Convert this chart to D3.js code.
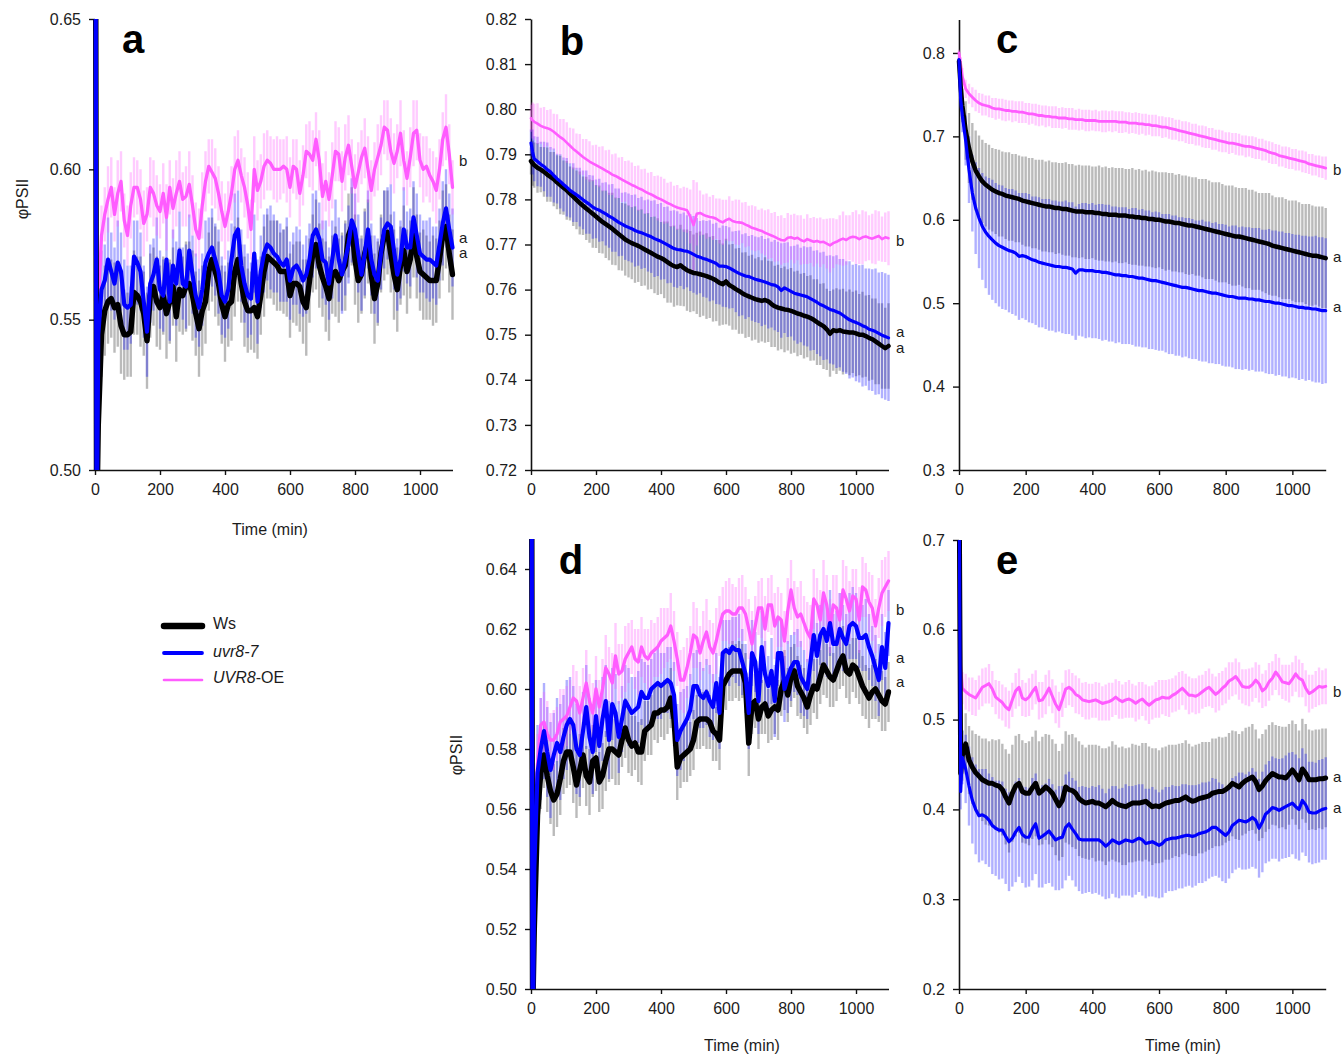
<!DOCTYPE html>
<html><head><meta charset="utf-8">
<script src="https://cdn.jsdelivr.net/npm/d3@7"></script>
<style>body{margin:0;background:#fff} text{font-family:"Liberation Sans",Arial,sans-serif}</style>
</head><body><svg id="chart" width="1344" height="1054"></svg>
<script>
// time points (min): 0, 5, then every 10 min up to 1100
const times = [0, 5].concat(d3.range(10, 1101, 10));
const xTicks = [0, 200, 400, 600, 800, 1000];
const yTicksA = [0.50, 0.55, 0.60, 0.65];
const yTicksB = [0.72, 0.73, 0.74, 0.75, 0.76, 0.77, 0.78, 0.79, 0.80, 0.81, 0.82];
const yTicksC = [0.3, 0.4, 0.5, 0.6, 0.7, 0.8];
const yTicksD = [0.50, 0.52, 0.54, 0.56, 0.58, 0.60, 0.62, 0.64];
const yTicksE = [0.2, 0.3, 0.4, 0.5, 0.6, 0.7];
const seriesNames = ['Ws', 'uvr8-7', 'UVR8-OE'];
const sigLetters = ['b', 'a', 'a'];
const panelLetters = ['a', 'b', 'c', 'd', 'e'];

// ---- panel a ----
const aWs = [0.80, 0.48,
 0.515,0.545,0.553,0.556,0.557,0.554,0.555,0.548,0.545,0.545,
 0.546,0.559,0.558,0.556,0.552,0.543,0.558,0.561,0.556,0.554,
 0.558,0.552,0.556,0.561,0.551,0.560,0.558,0.561,0.562,0.558,
 0.552,0.547,0.553,0.556,0.566,0.570,0.566,0.562,0.555,0.551,
 0.555,0.556,0.566,0.570,0.562,0.556,0.553,0.553,0.554,0.551,
 0.558,0.566,0.571,0.570,0.569,0.568,0.566,0.566,0.566,0.558,
 0.562,0.562,0.561,0.556,0.554,0.563,0.572,0.575,0.568,0.564,
 0.561,0.557,0.565,0.566,0.563,0.566,0.568,0.578,0.581,0.570,
 0.563,0.565,0.572,0.576,0.565,0.557,0.562,0.572,0.578,0.579,
 0.572,0.565,0.560,0.568,0.573,0.566,0.570,0.579,0.571,0.566,
 0.565,0.564,0.563,0.563,0.563,0.570,0.578,0.581,0.572,0.565];
const aUvr = [0.80, 0.47,
 0.545,0.560,0.563,0.570,0.566,0.562,0.569,0.566,0.555,0.554,
 0.555,0.571,0.569,0.566,0.556,0.546,0.562,0.565,0.570,0.560,
 0.558,0.570,0.556,0.568,0.562,0.573,0.562,0.561,0.573,0.565,
 0.558,0.554,0.560,0.569,0.572,0.574,0.570,0.566,0.558,0.556,
 0.560,0.570,0.578,0.580,0.568,0.562,0.558,0.557,0.572,0.556,
 0.566,0.572,0.575,0.574,0.572,0.571,0.569,0.568,0.570,0.563,
 0.567,0.568,0.566,0.563,0.565,0.570,0.578,0.580,0.577,0.570,
 0.569,0.562,0.570,0.578,0.570,0.565,0.570,0.575,0.583,0.580,
 0.572,0.565,0.572,0.580,0.570,0.565,0.563,0.572,0.580,0.582,
 0.581,0.573,0.565,0.570,0.580,0.574,0.574,0.584,0.578,0.572,
 0.571,0.570,0.570,0.569,0.568,0.575,0.582,0.587,0.580,0.574];
const aOe = [0.80, 0.52,
 0.555,0.578,0.585,0.590,0.594,0.585,0.592,0.596,0.583,0.578,
 0.588,0.594,0.594,0.590,0.582,0.585,0.594,0.592,0.588,0.586,
 0.592,0.584,0.594,0.587,0.592,0.596,0.590,0.591,0.595,0.588,
 0.580,0.577,0.588,0.596,0.601,0.599,0.597,0.592,0.586,0.581,
 0.586,0.592,0.600,0.603,0.598,0.594,0.588,0.580,0.600,0.593,
 0.596,0.601,0.603,0.602,0.600,0.600,0.600,0.601,0.600,0.594,
 0.601,0.600,0.592,0.598,0.606,0.605,0.603,0.610,0.603,0.591,
 0.596,0.590,0.598,0.606,0.605,0.596,0.604,0.608,0.601,0.594,
 0.599,0.604,0.607,0.600,0.593,0.600,0.604,0.608,0.614,0.613,
 0.606,0.602,0.606,0.612,0.603,0.597,0.604,0.612,0.613,0.603,
 0.600,0.601,0.598,0.596,0.593,0.600,0.610,0.614,0.605,0.594];
const aWsErr = [0.005, 0.010,
 0.013,0.014,0.015,0.014,0.013,0.015,0.014,0.016,0.015,0.014,
 0.015,0.014,0.013,0.015,0.014,0.016,0.014,0.013,0.015,0.014,
 0.013,0.015,0.014,0.013,0.015,0.014,0.013,0.015,0.014,0.015,
 0.014,0.016,0.015,0.014,0.013,0.014,0.015,0.014,0.013,0.015,
 0.014,0.013,0.015,0.014,0.013,0.015,0.014,0.013,0.015,0.014,
 0.013,0.015,0.014,0.013,0.014,0.015,0.013,0.014,0.015,0.014,
 0.013,0.014,0.015,0.014,0.016,0.014,0.013,0.015,0.014,0.013,
 0.015,0.014,0.013,0.015,0.014,0.013,0.015,0.014,0.013,0.015,
 0.014,0.013,0.015,0.014,0.013,0.015,0.014,0.013,0.015,0.014,
 0.013,0.015,0.014,0.013,0.015,0.014,0.013,0.015,0.014,0.013,
 0.015,0.014,0.013,0.015,0.014,0.013,0.015,0.014,0.013,0.015];
const aUvrErr = [0.005, 0.010,
 0.012,0.013,0.012,0.014,0.013,0.012,0.014,0.013,0.015,0.014,
 0.013,0.012,0.014,0.013,0.012,0.015,0.013,0.012,0.014,0.013,
 0.012,0.014,0.013,0.012,0.014,0.013,0.012,0.014,0.012,0.013,
 0.014,0.013,0.012,0.014,0.012,0.013,0.012,0.014,0.013,0.012,
 0.013,0.012,0.014,0.013,0.012,0.013,0.014,0.012,0.013,0.014,
 0.012,0.013,0.012,0.014,0.013,0.012,0.013,0.012,0.014,0.013,
 0.012,0.013,0.014,0.012,0.013,0.012,0.014,0.013,0.012,0.013,
 0.014,0.012,0.013,0.012,0.014,0.013,0.012,0.013,0.014,0.012,
 0.013,0.012,0.014,0.013,0.012,0.013,0.014,0.012,0.013,0.012,
 0.014,0.013,0.012,0.013,0.014,0.012,0.013,0.012,0.014,0.013,
 0.012,0.013,0.014,0.012,0.013,0.012,0.014,0.013,0.012,0.013];
const aOeErr = [0.004, 0.008,
 0.009,0.010,0.009,0.011,0.010,0.009,0.011,0.010,0.009,0.010,
 0.011,0.010,0.009,0.010,0.011,0.009,0.010,0.011,0.010,0.009,
 0.010,0.011,0.009,0.010,0.011,0.010,0.009,0.010,0.011,0.010,
 0.009,0.010,0.011,0.010,0.009,0.011,0.010,0.009,0.010,0.011,
 0.010,0.009,0.011,0.010,0.009,0.010,0.011,0.010,0.011,0.010,
 0.009,0.011,0.010,0.009,0.010,0.011,0.010,0.009,0.011,0.010,
 0.009,0.010,0.011,0.010,0.009,0.011,0.010,0.009,0.010,0.011,
 0.010,0.009,0.011,0.010,0.009,0.010,0.011,0.010,0.009,0.011,
 0.010,0.009,0.010,0.011,0.010,0.009,0.011,0.010,0.009,0.010,
 0.011,0.010,0.009,0.011,0.010,0.009,0.010,0.011,0.010,0.009,
 0.011,0.010,0.009,0.010,0.011,0.010,0.009,0.011,0.010,0.009];

// ---- panel b ----
const bWs = [0.7885, 0.7880,
 0.7876,0.7870,0.7866,0.7861,0.7855,0.7850,0.7845,0.7838,0.7832,0.7826,
 0.7820,0.7813,0.7806,0.7799,0.7792,0.7786,0.7780,0.7774,0.7768,0.7762,
 0.7756,0.7750,0.7745,0.7740,0.7735,0.7729,0.7723,0.7717,0.7711,0.7707,
 0.7703,0.7700,0.7697,0.7693,0.7689,0.7685,0.7681,0.7677,0.7673,0.7670,
 0.7666,0.7661,0.7656,0.7652,0.7650,0.7654,0.7648,0.7643,0.7640,0.7637,
 0.7636,0.7634,0.7632,0.7630,0.7627,0.7624,0.7620,0.7615,0.7612,0.7618,
 0.7610,0.7606,0.7601,0.7597,0.7592,0.7588,0.7585,0.7582,0.7579,0.7577,
 0.7575,0.7577,0.7574,0.7568,0.7563,0.7560,0.7558,0.7556,0.7555,0.7553,
 0.7550,0.7547,0.7545,0.7542,0.7540,0.7537,0.7533,0.7528,0.7523,0.7519,
 0.7512,0.7502,0.7510,0.7508,0.7510,0.7507,0.7506,0.7505,0.7505,0.7503,
 0.7500,0.7500,0.7497,0.7493,0.7490,0.7485,0.7480,0.7475,0.7470,0.7475];
const bUvr = [0.7925, 0.7905,
 0.7890,0.7884,0.7878,0.7873,0.7866,0.7861,0.7853,0.7846,0.7840,0.7833,
 0.7827,0.7820,0.7815,0.7810,0.7805,0.7799,0.7794,0.7789,0.7783,0.7779,
 0.7776,0.7772,0.7768,0.7763,0.7759,0.7754,0.7749,0.7745,0.7741,0.7738,
 0.7735,0.7731,0.7728,0.7726,0.7723,0.7720,0.7717,0.7713,0.7710,0.7707,
 0.7703,0.7699,0.7695,0.7691,0.7689,0.7688,0.7686,0.7685,0.7682,0.7678,
 0.7674,0.7672,0.7669,0.7667,0.7664,0.7661,0.7658,0.7652,0.7652,0.7651,
 0.7648,0.7644,0.7640,0.7636,0.7633,0.7630,0.7629,0.7626,0.7623,0.7621,
 0.7619,0.7617,0.7614,0.7611,0.7610,0.7606,0.7598,0.7604,0.7600,0.7596,
 0.7592,0.7590,0.7588,0.7586,0.7584,0.7580,0.7576,0.7572,0.7567,0.7564,
 0.7560,0.7556,0.7554,0.7551,0.7548,0.7543,0.7538,0.7533,0.7530,0.7527,
 0.7524,0.7520,0.7517,0.7512,0.7510,0.7507,0.7503,0.7499,0.7496,0.7493];
const bOe = [0.7980, 0.7975,
 0.7972,0.7968,0.7963,0.7960,0.7958,0.7955,0.7950,0.7944,0.7938,0.7933,
 0.7926,0.7919,0.7912,0.7906,0.7900,0.7894,0.7889,0.7884,0.7880,0.7876,
 0.7872,0.7868,0.7864,0.7860,0.7855,0.7852,0.7848,0.7844,0.7840,0.7836,
 0.7832,0.7829,0.7825,0.7822,0.7818,0.7814,0.7811,0.7807,0.7803,0.7800,
 0.7796,0.7792,0.7789,0.7785,0.7782,0.7780,0.7778,0.7776,0.7762,0.7743,
 0.7768,0.7770,0.7766,0.7763,0.7761,0.7760,0.7757,0.7752,0.7749,0.7754,
 0.7757,0.7752,0.7750,0.7749,0.7748,0.7744,0.7741,0.7737,0.7735,0.7732,
 0.7730,0.7726,0.7723,0.7720,0.7717,0.7713,0.7710,0.7709,0.7715,0.7716,
 0.7713,0.7715,0.7710,0.7707,0.7712,0.7709,0.7706,0.7708,0.7705,0.7706,
 0.7702,0.7698,0.7703,0.7706,0.7710,0.7713,0.7710,0.7715,0.7717,0.7716,
 0.7712,0.7716,0.7718,0.7715,0.7713,0.7716,0.7719,0.7712,0.7716,0.7714];
const bWsErr = [0.003, 0.005,
 0.005,0.0055,0.005,0.0055,0.006,0.0055,0.006,0.006,0.0065,0.006,
 0.0065,0.006,0.0065,0.0065,0.007,0.0065,0.007,0.007,0.0075,0.007,
 0.0075,0.007,0.0075,0.0075,0.008,0.0075,0.008,0.0075,0.008,0.008,
 0.008,0.0085,0.008,0.0085,0.008,0.0085,0.008,0.0085,0.0085,0.008,
 0.0085,0.009,0.0085,0.009,0.0085,0.009,0.0085,0.009,0.009,0.0085,
 0.009,0.0095,0.009,0.0095,0.009,0.0095,0.009,0.0095,0.009,0.0095,
 0.009,0.0095,0.009,0.0095,0.009,0.0095,0.009,0.0095,0.009,0.0095,
 0.009,0.0095,0.009,0.0095,0.009,0.0095,0.009,0.0095,0.009,0.0095,
 0.009,0.0095,0.009,0.0095,0.009,0.0095,0.009,0.0095,0.009,0.0095,
 0.009,0.0095,0.009,0.0095,0.009,0.0095,0.009,0.0095,0.009,0.0095,
 0.009,0.0095,0.009,0.0095,0.009,0.0095,0.009,0.0095,0.009,0.0095];
const bUvrErr = [0.003, 0.005,
 0.005,0.0055,0.005,0.0055,0.006,0.0055,0.006,0.0055,0.006,0.006,
 0.0065,0.006,0.0065,0.006,0.0065,0.0065,0.007,0.0065,0.007,0.0065,
 0.007,0.0065,0.007,0.007,0.0075,0.007,0.0075,0.007,0.0075,0.0075,
 0.0075,0.008,0.0075,0.008,0.0075,0.008,0.008,0.0085,0.008,0.0085,
 0.008,0.0085,0.008,0.0085,0.0085,0.008,0.0085,0.008,0.0085,0.0085,
 0.0085,0.008,0.0085,0.0085,0.009,0.0085,0.009,0.0085,0.009,0.009,
 0.009,0.0085,0.009,0.0095,0.009,0.0095,0.009,0.0095,0.0095,0.0095,
 0.010,0.0095,0.010,0.0095,0.010,0.010,0.0105,0.010,0.0105,0.010,
 0.0105,0.011,0.0105,0.011,0.011,0.0115,0.011,0.0115,0.0115,0.012,
 0.0115,0.012,0.012,0.0125,0.012,0.0125,0.0125,0.013,0.0125,0.013,
 0.013,0.0135,0.013,0.0135,0.0135,0.014,0.0135,0.014,0.014,0.014];
const bOeErr = [0.003, 0.004,
 0.004,0.0045,0.004,0.0045,0.004,0.0045,0.004,0.0045,0.004,0.0045,
 0.0045,0.004,0.0045,0.004,0.0045,0.004,0.0045,0.0045,0.004,0.0045,
 0.0045,0.005,0.0045,0.005,0.0045,0.005,0.0045,0.005,0.0045,0.005,
 0.005,0.0045,0.005,0.0045,0.005,0.0045,0.005,0.0045,0.005,0.005,
 0.005,0.0045,0.005,0.0045,0.005,0.0045,0.005,0.005,0.006,0.010,
 0.007,0.005,0.0045,0.005,0.0045,0.005,0.0045,0.005,0.005,0.0045,
 0.005,0.0045,0.005,0.005,0.0045,0.005,0.0045,0.005,0.005,0.0045,
 0.005,0.005,0.0055,0.005,0.0055,0.005,0.0055,0.005,0.0055,0.005,
 0.0055,0.005,0.0055,0.005,0.0055,0.005,0.0055,0.005,0.0055,0.005,
 0.0055,0.006,0.0055,0.005,0.0055,0.006,0.0055,0.005,0.0055,0.006,
 0.0055,0.006,0.0055,0.005,0.0055,0.006,0.0055,0.005,0.0055,0.006];

// ---- panel c ----
const cWs = [0.790, 0.760,
 0.737,0.707,0.686,0.670,0.659,0.652,0.646,0.642,0.639,0.636,
 0.634,0.632,0.631,0.629,0.628,0.627,0.626,0.625,0.623,0.622,
 0.621,0.620,0.619,0.618,0.617,0.616,0.616,0.615,0.614,0.614,
 0.613,0.613,0.612,0.611,0.610,0.610,0.610,0.609,0.609,0.609,
 0.608,0.608,0.607,0.607,0.606,0.606,0.606,0.605,0.605,0.605,
 0.604,0.604,0.603,0.603,0.602,0.602,0.601,0.601,0.600,0.600,
 0.599,0.598,0.598,0.597,0.596,0.596,0.595,0.594,0.593,0.593,
 0.592,0.591,0.590,0.589,0.588,0.587,0.586,0.585,0.584,0.583,
 0.582,0.581,0.580,0.580,0.579,0.578,0.577,0.576,0.575,0.574,
 0.573,0.572,0.571,0.569,0.568,0.567,0.566,0.565,0.564,0.563,
 0.562,0.561,0.560,0.559,0.558,0.557,0.557,0.556,0.555,0.554];
const cUvr = [0.792, 0.745,
 0.725,0.695,0.660,0.632,0.614,0.602,0.592,0.585,0.580,0.576,
 0.572,0.569,0.567,0.565,0.563,0.562,0.560,0.556,0.557,0.556,
 0.554,0.552,0.551,0.549,0.548,0.547,0.546,0.545,0.544,0.544,
 0.543,0.543,0.542,0.541,0.536,0.540,0.540,0.539,0.539,0.539,
 0.538,0.538,0.537,0.537,0.536,0.535,0.534,0.534,0.533,0.533,
 0.532,0.532,0.531,0.530,0.530,0.529,0.528,0.527,0.527,0.526,
 0.525,0.524,0.523,0.522,0.521,0.520,0.519,0.519,0.518,0.517,
 0.516,0.515,0.515,0.514,0.513,0.512,0.512,0.511,0.510,0.509,
 0.508,0.508,0.507,0.506,0.506,0.506,0.505,0.505,0.504,0.504,
 0.503,0.502,0.502,0.501,0.500,0.500,0.499,0.498,0.497,0.497,
 0.496,0.495,0.495,0.494,0.494,0.493,0.493,0.492,0.491,0.491];
const cOe = [0.800, 0.787,
 0.772,0.757,0.751,0.747,0.743,0.740,0.738,0.737,0.736,0.734,
 0.733,0.733,0.732,0.731,0.731,0.730,0.730,0.729,0.729,0.728,
 0.727,0.727,0.726,0.725,0.725,0.724,0.724,0.723,0.723,0.722,
 0.722,0.722,0.721,0.721,0.720,0.720,0.720,0.719,0.719,0.719,
 0.719,0.718,0.718,0.718,0.718,0.718,0.718,0.717,0.717,0.717,
 0.716,0.716,0.716,0.715,0.715,0.714,0.714,0.713,0.713,0.712,
 0.711,0.711,0.710,0.709,0.708,0.707,0.706,0.705,0.704,0.703,
 0.702,0.701,0.700,0.699,0.698,0.697,0.696,0.695,0.694,0.693,
 0.692,0.692,0.691,0.690,0.689,0.688,0.688,0.687,0.686,0.685,
 0.684,0.683,0.681,0.680,0.679,0.677,0.676,0.675,0.674,0.673,
 0.672,0.671,0.670,0.669,0.667,0.666,0.665,0.664,0.663,0.662];
const cWsErr = [0.004, 0.012,
 0.020,0.035,0.042,0.046,0.048,0.049,0.050,0.050,0.051,0.050,
 0.051,0.052,0.051,0.052,0.053,0.052,0.053,0.052,0.053,0.054,
 0.053,0.054,0.053,0.054,0.055,0.054,0.055,0.054,0.055,0.054,
 0.055,0.056,0.055,0.056,0.055,0.056,0.055,0.056,0.056,0.055,
 0.056,0.057,0.056,0.057,0.056,0.057,0.056,0.057,0.057,0.056,
 0.057,0.058,0.057,0.058,0.057,0.058,0.057,0.058,0.058,0.057,
 0.058,0.059,0.058,0.059,0.058,0.059,0.058,0.059,0.059,0.058,
 0.059,0.058,0.059,0.060,0.059,0.058,0.059,0.060,0.059,0.058,
 0.059,0.060,0.059,0.058,0.059,0.060,0.059,0.060,0.059,0.058,
 0.059,0.060,0.061,0.060,0.059,0.060,0.061,0.060,0.059,0.060,
 0.061,0.060,0.059,0.060,0.061,0.060,0.059,0.060,0.061,0.060];
const cUvrErr = [0.004, 0.012,
 0.020,0.030,0.040,0.046,0.055,0.060,0.064,0.067,0.070,0.072,
 0.072,0.073,0.074,0.073,0.074,0.075,0.075,0.076,0.075,0.076,
 0.077,0.076,0.077,0.078,0.077,0.078,0.079,0.078,0.079,0.078,
 0.079,0.080,0.079,0.080,0.080,0.079,0.080,0.081,0.080,0.081,
 0.080,0.081,0.082,0.081,0.082,0.081,0.082,0.081,0.082,0.082,
 0.081,0.082,0.083,0.082,0.083,0.082,0.083,0.082,0.083,0.083,
 0.082,0.083,0.084,0.083,0.084,0.083,0.084,0.083,0.084,0.084,
 0.083,0.084,0.085,0.084,0.085,0.084,0.085,0.084,0.085,0.085,
 0.084,0.085,0.086,0.085,0.086,0.085,0.086,0.085,0.086,0.086,
 0.085,0.086,0.087,0.086,0.087,0.086,0.087,0.086,0.087,0.086,
 0.086,0.087,0.086,0.087,0.086,0.087,0.088,0.087,0.088,0.087];
const cOeErr = [0.004, 0.008,
 0.010,0.011,0.012,0.012,0.013,0.012,0.013,0.012,0.013,0.012,
 0.013,0.012,0.013,0.013,0.012,0.013,0.012,0.013,0.013,0.012,
 0.013,0.012,0.013,0.013,0.012,0.013,0.012,0.013,0.013,0.012,
 0.013,0.012,0.013,0.013,0.012,0.013,0.012,0.013,0.013,0.012,
 0.013,0.012,0.013,0.013,0.012,0.013,0.012,0.013,0.013,0.012,
 0.013,0.012,0.013,0.013,0.012,0.013,0.012,0.013,0.013,0.012,
 0.013,0.012,0.013,0.013,0.012,0.013,0.012,0.013,0.013,0.012,
 0.013,0.012,0.013,0.013,0.012,0.013,0.012,0.013,0.013,0.012,
 0.013,0.012,0.013,0.013,0.012,0.013,0.012,0.013,0.013,0.012,
 0.013,0.012,0.013,0.013,0.012,0.013,0.012,0.013,0.013,0.012,
 0.013,0.012,0.013,0.013,0.012,0.013,0.012,0.013,0.013,0.014];

// ---- panel d ----
const dWs = [0.80, 0.49,
 0.520,0.558,0.572,0.578,0.571,0.566,0.563,0.565,0.570,0.576,
 0.579,0.579,0.574,0.568,0.573,0.578,0.571,0.569,0.576,0.577,
 0.569,0.571,0.576,0.580,0.580,0.579,0.578,0.583,0.587,0.583,
 0.581,0.582,0.579,0.579,0.586,0.587,0.588,0.592,0.592,0.593,
 0.593,0.594,0.597,0.590,0.574,0.577,0.578,0.579,0.580,0.583,
 0.589,0.590,0.590,0.590,0.589,0.586,0.585,0.583,0.601,0.603,
 0.605,0.606,0.606,0.606,0.606,0.602,0.582,0.595,0.596,0.590,
 0.594,0.595,0.591,0.593,0.594,0.593,0.600,0.603,0.598,0.604,
 0.606,0.601,0.599,0.597,0.594,0.598,0.601,0.600,0.604,0.608,
 0.606,0.604,0.603,0.606,0.609,0.611,0.606,0.605,0.608,0.607,
 0.604,0.601,0.599,0.597,0.599,0.600,0.598,0.596,0.595,0.599];
const dUvr = [0.80, 0.47,
 0.540,0.572,0.580,0.586,0.579,0.573,0.578,0.582,0.579,0.584,
 0.588,0.590,0.588,0.580,0.578,0.586,0.594,0.584,0.579,0.591,
 0.581,0.590,0.596,0.583,0.595,0.592,0.584,0.590,0.596,0.594,
 0.592,0.593,0.594,0.599,0.597,0.597,0.600,0.601,0.602,0.601,
 0.602,0.603,0.602,0.598,0.583,0.586,0.588,0.590,0.593,0.601,
 0.601,0.598,0.597,0.599,0.596,0.594,0.602,0.592,0.612,0.613,
 0.612,0.614,0.613,0.613,0.609,0.605,0.592,0.612,0.609,0.596,
 0.614,0.605,0.601,0.606,0.596,0.612,0.612,0.600,0.604,0.607,
 0.609,0.609,0.604,0.602,0.600,0.609,0.618,0.611,0.618,0.620,
 0.616,0.622,0.615,0.615,0.620,0.617,0.615,0.621,0.622,0.621,
 0.617,0.617,0.618,0.614,0.611,0.607,0.603,0.614,0.607,0.622];
const dOe = [0.80, 0.52,
 0.550,0.575,0.588,0.589,0.585,0.583,0.583,0.585,0.589,0.590,
 0.591,0.594,0.597,0.596,0.592,0.597,0.602,0.596,0.592,0.600,
 0.594,0.600,0.607,0.605,0.602,0.611,0.605,0.606,0.610,0.612,
 0.614,0.610,0.609,0.614,0.611,0.610,0.612,0.613,0.614,0.616,
 0.617,0.618,0.621,0.616,0.610,0.603,0.603,0.607,0.612,0.618,
 0.617,0.612,0.616,0.619,0.614,0.612,0.616,0.621,0.625,0.626,
 0.626,0.625,0.625,0.627,0.627,0.625,0.620,0.615,0.621,0.627,
 0.627,0.620,0.628,0.628,0.621,0.624,0.623,0.616,0.626,0.633,
 0.627,0.624,0.625,0.622,0.619,0.617,0.630,0.628,0.623,0.632,
 0.628,0.621,0.628,0.627,0.623,0.633,0.630,0.626,0.631,0.630,
 0.623,0.634,0.633,0.629,0.627,0.621,0.627,0.632,0.634,0.636];
const dWsErr = [0.004, 0.010,
 0.012,0.013,0.012,0.011,0.012,0.011,0.012,0.011,0.012,0.011,
 0.012,0.011,0.012,0.011,0.012,0.011,0.010,0.011,0.012,0.011,
 0.010,0.011,0.010,0.011,0.010,0.011,0.010,0.009,0.010,0.011,
 0.010,0.009,0.010,0.011,0.010,0.009,0.010,0.009,0.010,0.009,
 0.010,0.009,0.010,0.009,0.011,0.010,0.009,0.010,0.009,0.010,
 0.009,0.010,0.009,0.010,0.009,0.010,0.009,0.010,0.009,0.010,
 0.009,0.010,0.009,0.010,0.009,0.010,0.011,0.010,0.009,0.010,
 0.009,0.010,0.009,0.010,0.009,0.010,0.009,0.010,0.009,0.010,
 0.009,0.010,0.009,0.010,0.009,0.010,0.009,0.010,0.009,0.010,
 0.009,0.010,0.009,0.010,0.009,0.010,0.009,0.010,0.009,0.010,
 0.009,0.010,0.009,0.010,0.009,0.010,0.009,0.010,0.009,0.010];
const dUvrErr = [0.004, 0.010,
 0.014,0.016,0.017,0.016,0.015,0.016,0.014,0.015,0.016,0.014,
 0.015,0.014,0.013,0.015,0.014,0.013,0.014,0.013,0.014,0.012,
 0.013,0.014,0.012,0.013,0.012,0.013,0.012,0.011,0.012,0.013,
 0.012,0.011,0.012,0.011,0.012,0.011,0.010,0.011,0.012,0.011,
 0.010,0.011,0.012,0.011,0.012,0.013,0.012,0.011,0.012,0.011,
 0.012,0.011,0.010,0.011,0.012,0.011,0.010,0.012,0.011,0.010,
 0.011,0.010,0.011,0.012,0.011,0.010,0.012,0.011,0.010,0.011,
 0.012,0.011,0.010,0.011,0.012,0.011,0.010,0.011,0.012,0.011,
 0.010,0.011,0.012,0.011,0.010,0.011,0.012,0.011,0.010,0.011,
 0.012,0.011,0.010,0.011,0.012,0.011,0.010,0.011,0.012,0.011,
 0.010,0.011,0.012,0.011,0.010,0.011,0.012,0.011,0.012,0.011];
const dOeErr = [0.004, 0.008,
 0.009,0.010,0.009,0.010,0.011,0.009,0.010,0.009,0.011,0.010,
 0.010,0.009,0.011,0.010,0.009,0.010,0.011,0.009,0.010,0.011,
 0.009,0.010,0.011,0.009,0.010,0.011,0.010,0.009,0.011,0.010,
 0.009,0.010,0.011,0.010,0.009,0.010,0.011,0.009,0.010,0.011,
 0.010,0.009,0.011,0.010,0.009,0.010,0.011,0.010,0.009,0.011,
 0.010,0.009,0.010,0.011,0.009,0.010,0.011,0.010,0.009,0.010,
 0.011,0.010,0.009,0.010,0.011,0.009,0.010,0.011,0.010,0.009,
 0.010,0.011,0.009,0.010,0.011,0.010,0.009,0.010,0.011,0.010,
 0.009,0.010,0.011,0.009,0.010,0.011,0.010,0.009,0.010,0.011,
 0.010,0.009,0.010,0.011,0.009,0.010,0.011,0.010,0.009,0.010,
 0.011,0.010,0.009,0.010,0.011,0.009,0.010,0.011,0.010,0.010];

// ---- panel e ----
const eWs = [0.80, 0.44,
 0.460,0.473,0.455,0.447,0.441,0.437,0.433,0.431,0.429,0.429,
 0.427,0.426,0.422,0.414,0.407,0.418,0.426,0.429,0.420,0.418,
 0.418,0.424,0.429,0.418,0.421,0.425,0.422,0.418,0.411,0.404,
 0.410,0.425,0.422,0.421,0.418,0.412,0.409,0.407,0.408,0.409,
 0.407,0.407,0.405,0.403,0.406,0.410,0.407,0.405,0.404,0.403,
 0.405,0.407,0.407,0.407,0.408,0.409,0.406,0.403,0.404,0.403,
 0.405,0.407,0.408,0.409,0.410,0.410,0.412,0.414,0.411,0.409,
 0.410,0.412,0.413,0.414,0.415,0.418,0.419,0.420,0.420,0.422,
 0.425,0.429,0.427,0.425,0.429,0.432,0.434,0.436,0.431,0.422,
 0.426,0.432,0.436,0.440,0.438,0.436,0.436,0.435,0.439,0.444,
 0.439,0.433,0.445,0.440,0.433,0.433,0.433,0.434,0.434,0.435];
const eUvr = [0.80, 0.42,
 0.458,0.445,0.426,0.410,0.400,0.393,0.394,0.392,0.388,0.382,
 0.379,0.377,0.377,0.370,0.364,0.368,0.375,0.380,0.372,0.369,
 0.369,0.378,0.384,0.368,0.370,0.373,0.376,0.371,0.366,0.368,
 0.369,0.380,0.384,0.378,0.373,0.367,0.366,0.366,0.366,0.366,
 0.366,0.366,0.363,0.359,0.362,0.366,0.364,0.362,0.364,0.366,
 0.365,0.364,0.366,0.368,0.366,0.362,0.363,0.364,0.362,0.360,
 0.362,0.366,0.367,0.368,0.368,0.369,0.370,0.371,0.371,0.370,
 0.371,0.373,0.374,0.375,0.377,0.380,0.380,0.377,0.374,0.371,
 0.375,0.382,0.385,0.388,0.387,0.386,0.388,0.391,0.388,0.379,
 0.386,0.395,0.398,0.402,0.401,0.399,0.401,0.403,0.405,0.407,
 0.403,0.400,0.410,0.405,0.397,0.396,0.396,0.398,0.400,0.401];
const eOe = [0.80, 0.56,
 0.535,0.531,0.528,0.526,0.524,0.530,0.536,0.538,0.540,0.534,
 0.525,0.522,0.519,0.514,0.511,0.522,0.532,0.536,0.524,0.522,
 0.525,0.531,0.536,0.521,0.522,0.528,0.535,0.526,0.517,0.511,
 0.522,0.534,0.536,0.533,0.528,0.526,0.522,0.521,0.520,0.521,
 0.522,0.520,0.518,0.519,0.520,0.522,0.525,0.522,0.520,0.522,
 0.523,0.521,0.518,0.521,0.523,0.519,0.516,0.519,0.522,0.523,
 0.525,0.524,0.524,0.527,0.529,0.532,0.535,0.531,0.527,0.527,
 0.526,0.528,0.531,0.534,0.536,0.532,0.528,0.531,0.535,0.538,
 0.543,0.545,0.548,0.543,0.537,0.536,0.536,0.539,0.544,0.540,
 0.532,0.535,0.542,0.546,0.553,0.548,0.542,0.541,0.540,0.545,
 0.551,0.546,0.544,0.535,0.529,0.531,0.534,0.537,0.536,0.537];
const eWsErr = [0.005, 0.020,
 0.028,0.034,0.038,0.041,0.043,0.045,0.046,0.048,0.047,0.049,
 0.050,0.052,0.051,0.053,0.055,0.054,0.056,0.055,0.057,0.056,
 0.058,0.057,0.059,0.058,0.060,0.059,0.061,0.060,0.062,0.061,
 0.063,0.062,0.061,0.063,0.062,0.064,0.063,0.062,0.064,0.063,
 0.065,0.064,0.063,0.065,0.064,0.066,0.065,0.064,0.066,0.065,
 0.064,0.066,0.065,0.064,0.066,0.065,0.064,0.065,0.064,0.063,
 0.064,0.063,0.064,0.063,0.062,0.063,0.062,0.063,0.062,0.061,
 0.062,0.061,0.062,0.061,0.060,0.061,0.060,0.061,0.060,0.059,
 0.060,0.059,0.060,0.059,0.058,0.059,0.058,0.059,0.058,0.057,
 0.058,0.057,0.058,0.057,0.056,0.057,0.056,0.057,0.056,0.055,
 0.056,0.055,0.056,0.055,0.056,0.055,0.056,0.055,0.056,0.055];
const eUvrErr = [0.005, 0.020,
 0.030,0.038,0.044,0.048,0.050,0.052,0.051,0.053,0.052,0.054,
 0.053,0.055,0.054,0.053,0.055,0.054,0.056,0.055,0.054,0.056,
 0.055,0.057,0.056,0.055,0.057,0.056,0.058,0.057,0.056,0.058,
 0.057,0.059,0.058,0.057,0.059,0.058,0.060,0.059,0.058,0.060,
 0.059,0.061,0.060,0.059,0.061,0.060,0.062,0.061,0.060,0.062,
 0.061,0.062,0.061,0.060,0.062,0.061,0.060,0.061,0.060,0.059,
 0.060,0.059,0.058,0.059,0.058,0.057,0.058,0.057,0.056,0.057,
 0.056,0.055,0.056,0.055,0.054,0.055,0.054,0.053,0.054,0.053,
 0.052,0.053,0.052,0.053,0.054,0.053,0.054,0.055,0.054,0.055,
 0.056,0.055,0.056,0.057,0.056,0.057,0.056,0.057,0.058,0.057,
 0.058,0.057,0.058,0.057,0.056,0.057,0.056,0.057,0.056,0.057];
const eOeErr = [0.005, 0.015,
 0.018,0.020,0.019,0.021,0.020,0.019,0.021,0.020,0.022,0.020,
 0.019,0.021,0.020,0.022,0.021,0.019,0.020,0.021,0.020,0.019,
 0.021,0.020,0.019,0.021,0.020,0.022,0.020,0.019,0.021,0.020,
 0.019,0.021,0.020,0.019,0.021,0.020,0.019,0.021,0.020,0.019,
 0.020,0.021,0.019,0.020,0.021,0.019,0.020,0.021,0.019,0.020,
 0.021,0.019,0.020,0.021,0.019,0.020,0.021,0.019,0.020,0.021,
 0.019,0.020,0.021,0.019,0.020,0.021,0.019,0.020,0.021,0.019,
 0.020,0.021,0.019,0.020,0.021,0.019,0.020,0.021,0.019,0.020,
 0.021,0.019,0.020,0.021,0.019,0.020,0.021,0.019,0.020,0.021,
 0.019,0.020,0.021,0.019,0.020,0.021,0.019,0.020,0.021,0.019,
 0.020,0.021,0.019,0.020,0.021,0.019,0.020,0.021,0.019,0.020];

// ---------------- drawing ----------------
const svg = d3.select('#chart');
const LINE_COLOR = {ws: '#000000', uvr: '#0000ff', oe: '#ff5cff'};
const ERR_COLOR = {ws: 'rgba(0,0,0,0.27)', uvr: 'rgba(0,0,255,0.31)', oe: 'rgba(255,92,255,0.32)'};
const TXT = '#1c1c1c';

const panels = [
  {vals: {ws: aWs, uvr: aUvr, oe: aOe}, errs: {ws: aWsErr, uvr: aUvrErr, oe: aOeErr},
   yDom: [0.50, 0.65], yTicks: yTicksA, fmt: '.2f', xr: [95, 452.5], yr: [470, 19],
   lw: {ws: 5.5, uvr: 4.2, oe: 3.3},
   letterPos: [133, 53], sigX: 459, sigY: [166, 243, 258], xLab: [270, 535], yLab: [22, 199]},
  {vals: {ws: bWs, uvr: bUvr, oe: bOe}, errs: {ws: bWsErr, uvr: bUvrErr, oe: bOeErr},
   yDom: [0.72, 0.82], yTicks: yTicksB, fmt: '.2f', xr: [531, 888.5], yr: [470, 19],
   lw: {ws: 4.5, uvr: 3.2, oe: 2.6},
   letterPos: [572, 55], sigX: 896, sigY: [246, 337, 353]},
  {vals: {ws: cWs, uvr: cUvr, oe: cOe}, errs: {ws: cWsErr, uvr: cUvrErr, oe: cOeErr},
   yDom: [0.3, 0.84], yTicks: yTicksC, fmt: '.1f', xr: [959, 1325.7], yr: [470, 19.6],
   lw: {ws: 4.5, uvr: 3.2, oe: 2.8},
   letterPos: [1007, 53], sigX: 1333, sigY: [175, 262, 312]},
  {vals: {ws: dWs, uvr: dUvr, oe: dOe}, errs: {ws: dWsErr, uvr: dUvrErr, oe: dOeErr},
   yDom: [0.50, 0.65], yTicks: yTicksD, fmt: '.2f', xr: [531, 888.5], yr: [989, 539],
   lw: {ws: 5.5, uvr: 4.2, oe: 3.3},
   letterPos: [571, 574], sigX: 896, sigY: [615, 663, 687], xLab: [742, 1051], yLab: [456, 755]},
  {vals: {ws: eWs, uvr: eUvr, oe: eOe}, errs: {ws: eWsErr, uvr: eUvrErr, oe: eOeErr},
   yDom: [0.2, 0.7], yTicks: yTicksE, fmt: '.1f', xr: [959, 1325.7], yr: [989, 540],
   lw: {ws: 5, uvr: 3.2, oe: 3},
   letterPos: [1007, 574], sigX: 1333, sigY: [697, 782, 813], xLab: [1183, 1051]}
];

panels.forEach((p, pi) => {
  const x = d3.scaleLinear().domain([0, 1100]).range(p.xr);
  const y = d3.scaleLinear().domain(p.yDom).range(p.yr);
  const g = svg.append('g');
  const clipId = 'clip' + pi;
  svg.append('clipPath').attr('id', clipId).append('rect')
    .attr('x', p.xr[0] - 3).attr('y', p.yr[1])
    .attr('width', p.xr[1] - p.xr[0] + 6).attr('height', p.yr[0] - p.yr[1]);

  const xa = g.append('g').attr('transform', `translate(0,${p.yr[0]})`)
    .call(d3.axisBottom(x).tickValues(xTicks).tickSize(5).tickSizeOuter(0).tickPadding(9).tickFormat(d3.format('d')));
  const ya = g.append('g').attr('transform', `translate(${p.xr[0]},0)`)
    .call(d3.axisLeft(y).tickValues(p.yTicks).tickSize(6).tickSizeOuter(0).tickPadding(8).tickFormat(d3.format(p.fmt)));
  [xa, ya].forEach(a => {
    a.select('.domain').attr('stroke', '#111').attr('stroke-width', 1.6);
    a.selectAll('.tick line').attr('stroke', '#111').attr('stroke-width', 1.4);
    a.selectAll('.tick text').attr('fill', TXT).style('font-size', '16px')
      .style('font-family', '"Liberation Sans", Arial, sans-serif');
  });

  const plot = g.append('g').attr('clip-path', `url(#${clipId})`);
  ['ws', 'uvr', 'oe'].forEach(k => {
    const rows = times.map((t, i) => ({t, v: p.vals[k][i], e: p.errs[k][i]}));
    plot.append('g').selectAll('line').data(rows).join('line')
      .attr('x1', d => x(d.t)).attr('x2', d => x(d.t))
      .attr('y1', d => y(d.v - d.e)).attr('y2', d => y(d.v + d.e))
      .attr('stroke', ERR_COLOR[k]).attr('stroke-width', 2.4);
  });
  ['oe', 'ws', 'uvr'].forEach(k => {
    const line = d3.line().x((d, i) => x(times[i])).y(d => y(d));
    plot.append('path').datum(p.vals[k]).attr('d', line)
      .attr('fill', 'none').attr('stroke', LINE_COLOR[k]).attr('stroke-width', p.lw[k])
      .attr('stroke-linejoin', 'round').attr('stroke-linecap', 'round');
  });

  g.append('text').attr('x', p.letterPos[0]).attr('y', p.letterPos[1]).attr('text-anchor', 'middle')
    .style('font-size', '40px').style('font-weight', 'bold').attr('fill', '#000').text(panelLetters[pi]);
  sigLetters.forEach((s, i) => {
    g.append('text').attr('x', p.sigX).attr('y', p.sigY[i]).style('font-size', '15px')
      .attr('fill', TXT).text(s);
  });
  if (p.xLab) {
    g.append('text').attr('x', p.xLab[0]).attr('y', p.xLab[1]).attr('text-anchor', 'middle')
      .style('font-size', '16px').attr('fill', TXT).text('Time (min)');
  }
  if (p.yLab) {
    g.append('text').attr('transform', `translate(${p.yLab[0]},${p.yLab[1]}) rotate(-90)`)
      .attr('text-anchor', 'middle').attr('dy', '0.35em')
      .style('font-size', '16px').attr('fill', TXT).text('φPSII');
  }
});

// legend
const legend = svg.append('g');
const legRows = [
  {k: 'ws', y: 626, w: 6.5, ty: 629},
  {k: 'uvr', y: 653, w: 3.8, ty: 657},
  {k: 'oe', y: 680, w: 2.6, ty: 683}
];
legRows.forEach((r, i) => {
  legend.append('line').attr('x1', 164).attr('x2', 202).attr('y1', r.y).attr('y2', r.y)
    .attr('stroke', LINE_COLOR[r.k]).attr('stroke-width', r.w).attr('stroke-linecap', 'round');
  const t = legend.append('text').attr('x', 213).attr('y', r.ty).style('font-size', '16px').attr('fill', TXT);
  const name = seriesNames[i];
  if (i === 0) t.text(name);
  else if (i === 1) t.append('tspan').style('font-style', 'italic').text(name);
  else {
    t.append('tspan').style('font-style', 'italic').text(name.split('-')[0]);
    t.append('tspan').text('-' + name.split('-')[1]);
  }
});
</script>
</body></html>
